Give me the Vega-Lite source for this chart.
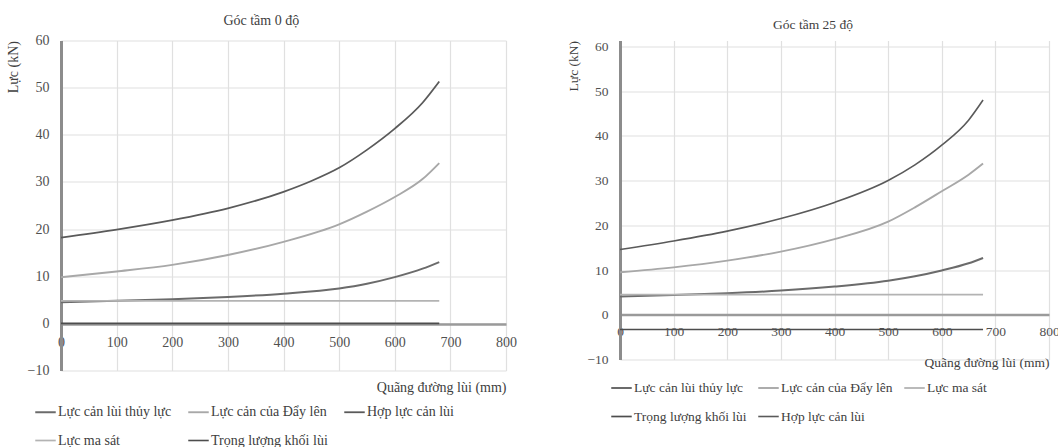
{
  "$schema": "https://vega.github.io/schema/vega-lite/v6.json",
  "background": "white",
  "padding": {"left": 6, "top": 13.5, "right": 0, "bottom": 0},
  "spacing": 49,
  "config": {
    "font": "Liberation Serif",
    "view": {"stroke": null},
    "axis": {
      "labelFont": "Liberation Serif",
      "titleFont": "Liberation Serif",
      "labelColor": "#505050",
      "titleColor": "#404040",
      "titleFontWeight": "normal",
      "gridColor": "#e0e0e0",
      "gridWidth": 1.2,
      "ticks": false,
      "labelFlush": false
    },
    "title": {"font": "Liberation Serif", "fontWeight": "normal", "color": "#404040", "anchor": "middle", "frame": "bounds"},
    "legend": {"labelFont": "Liberation Serif", "labelColor": "#404040", "gridAlign": "each"}
  },
  "data": {
    "values": [
      {"c": "0", "s": "Lực cản lùi thủy lực", "x": 0, "y": 4.5},
      {"c": "0", "s": "Lực cản lùi thủy lực", "x": 100, "y": 4.8},
      {"c": "0", "s": "Lực cản lùi thủy lực", "x": 200, "y": 5.1},
      {"c": "0", "s": "Lực cản lùi thủy lực", "x": 300, "y": 5.6},
      {"c": "0", "s": "Lực cản lùi thủy lực", "x": 400, "y": 6.3},
      {"c": "0", "s": "Lực cản lùi thủy lực", "x": 500, "y": 7.4},
      {"c": "0", "s": "Lực cản lùi thủy lực", "x": 550, "y": 8.4},
      {"c": "0", "s": "Lực cản lùi thủy lực", "x": 600, "y": 9.8},
      {"c": "0", "s": "Lực cản lùi thủy lực", "x": 650, "y": 11.6},
      {"c": "0", "s": "Lực cản lùi thủy lực", "x": 680, "y": 13.0},
      {"c": "0", "s": "Lực cản của Đẩy lên", "x": 0, "y": 9.8},
      {"c": "0", "s": "Lực cản của Đẩy lên", "x": 100, "y": 11.0},
      {"c": "0", "s": "Lực cản của Đẩy lên", "x": 200, "y": 12.4},
      {"c": "0", "s": "Lực cản của Đẩy lên", "x": 300, "y": 14.5},
      {"c": "0", "s": "Lực cản của Đẩy lên", "x": 400, "y": 17.3},
      {"c": "0", "s": "Lực cản của Đẩy lên", "x": 500, "y": 21.0},
      {"c": "0", "s": "Lực cản của Đẩy lên", "x": 550, "y": 23.7},
      {"c": "0", "s": "Lực cản của Đẩy lên", "x": 600, "y": 26.8},
      {"c": "0", "s": "Lực cản của Đẩy lên", "x": 650, "y": 30.6},
      {"c": "0", "s": "Lực cản của Đẩy lên", "x": 680, "y": 34.0},
      {"c": "0", "s": "Hợp lực cản lùi", "x": 0, "y": 18.2},
      {"c": "0", "s": "Hợp lực cản lùi", "x": 100, "y": 19.9},
      {"c": "0", "s": "Hợp lực cản lùi", "x": 200, "y": 21.9},
      {"c": "0", "s": "Hợp lực cản lùi", "x": 300, "y": 24.4},
      {"c": "0", "s": "Hợp lực cản lùi", "x": 400, "y": 27.9},
      {"c": "0", "s": "Hợp lực cản lùi", "x": 450, "y": 30.2},
      {"c": "0", "s": "Hợp lực cản lùi", "x": 500, "y": 33.0},
      {"c": "0", "s": "Hợp lực cản lùi", "x": 550, "y": 36.8},
      {"c": "0", "s": "Hợp lực cản lùi", "x": 600, "y": 41.3},
      {"c": "0", "s": "Hợp lực cản lùi", "x": 650, "y": 46.8},
      {"c": "0", "s": "Hợp lực cản lùi", "x": 680, "y": 51.3},
      {"c": "0", "s": "Lực ma sát", "x": 0, "y": 4.75},
      {"c": "0", "s": "Lực ma sát", "x": 680, "y": 4.75},
      {"c": "0", "s": "Trọng lượng khối lùi", "x": 0, "y": 0},
      {"c": "0", "s": "Trọng lượng khối lùi", "x": 680, "y": 0},
      {"c": "25", "s": "Lực cản lùi thủy lực", "x": 0, "y": 4.1},
      {"c": "25", "s": "Lực cản lùi thủy lực", "x": 100, "y": 4.4},
      {"c": "25", "s": "Lực cản lùi thủy lực", "x": 200, "y": 4.8},
      {"c": "25", "s": "Lực cản lùi thủy lực", "x": 300, "y": 5.4},
      {"c": "25", "s": "Lực cản lùi thủy lực", "x": 400, "y": 6.3},
      {"c": "25", "s": "Lực cản lùi thủy lực", "x": 500, "y": 7.6},
      {"c": "25", "s": "Lực cản lùi thủy lực", "x": 550, "y": 8.6},
      {"c": "25", "s": "Lực cản lùi thủy lực", "x": 600, "y": 9.9},
      {"c": "25", "s": "Lực cản lùi thủy lực", "x": 650, "y": 11.5},
      {"c": "25", "s": "Lực cản lùi thủy lực", "x": 677, "y": 12.7},
      {"c": "25", "s": "Lực cản của Đẩy lên", "x": 0, "y": 9.5},
      {"c": "25", "s": "Lực cản của Đẩy lên", "x": 100, "y": 10.6},
      {"c": "25", "s": "Lực cản của Đẩy lên", "x": 200, "y": 12.1},
      {"c": "25", "s": "Lực cản của Đẩy lên", "x": 300, "y": 14.1},
      {"c": "25", "s": "Lực cản của Đẩy lên", "x": 400, "y": 16.9},
      {"c": "25", "s": "Lực cản của Đẩy lên", "x": 500, "y": 20.8},
      {"c": "25", "s": "Lực cản của Đẩy lên", "x": 550, "y": 24.0},
      {"c": "25", "s": "Lực cản của Đẩy lên", "x": 600, "y": 27.6},
      {"c": "25", "s": "Lực cản của Đẩy lên", "x": 650, "y": 31.3},
      {"c": "25", "s": "Lực cản của Đẩy lên", "x": 677, "y": 33.8},
      {"c": "25", "s": "Hợp lực cản lùi", "x": 0, "y": 14.6},
      {"c": "25", "s": "Hợp lực cản lùi", "x": 100, "y": 16.5},
      {"c": "25", "s": "Hợp lực cản lùi", "x": 200, "y": 18.7},
      {"c": "25", "s": "Hợp lực cản lùi", "x": 300, "y": 21.5},
      {"c": "25", "s": "Hợp lực cản lùi", "x": 400, "y": 25.1},
      {"c": "25", "s": "Hợp lực cản lùi", "x": 500, "y": 30.0},
      {"c": "25", "s": "Hợp lực cản lùi", "x": 550, "y": 33.5},
      {"c": "25", "s": "Hợp lực cản lùi", "x": 600, "y": 37.9},
      {"c": "25", "s": "Hợp lực cản lùi", "x": 650, "y": 43.5},
      {"c": "25", "s": "Hợp lực cản lùi", "x": 677, "y": 48.0},
      {"c": "25", "s": "Lực ma sát", "x": 0, "y": 4.5},
      {"c": "25", "s": "Lực ma sát", "x": 677, "y": 4.5},
      {"c": "25", "s": "Trọng lượng khối lùi", "x": 0, "y": -3.3},
      {"c": "25", "s": "Trọng lượng khối lùi", "x": 677, "y": -3.3}
    ]
  },
  "resolve": {"scale": {"color": "independent", "strokeWidth": "independent"}},
  "hconcat": [
    {
      "width": 445,
      "height": 330,
      "title": {"text": "Góc tầm 0 độ", "fontSize": 14, "offset": 6},
      "transform": [{"filter": "datum.c == '0'"}],
      "mark": {"type": "line", "interpolate": "monotone"},
      "encoding": {
        "x": {
          "field": "x", "type": "quantitative",
          "scale": {"domain": [0, 800], "nice": false},
          "axis": {
            "values": [0, 100, 200, 300, 400, 500, 600, 700, 800],
            "title": "Quãng đường lùi (mm)", "titleFontSize": 14,
            "titleAnchor": "end", "titleY": 56,
            "offset": -46.5, "zindex": 0,
            "domainColor": "#9a9a9a", "domainWidth": 2.5,
            "labelFontSize": 14, "labelPadding": 11
          }
        },
        "y": {
          "field": "y", "type": "quantitative",
          "scale": {"domain": [-10, 60], "nice": false},
          "axis": {
            "values": [-10, 0, 10, 20, 30, 40, 50, 60],
            "title": "Lực (kN)", "titleFontSize": 14, "titleAnchor": "end", "titlePadding": 7,
            "domainColor": "#8c8c8c", "domainWidth": 3,
            "labelFontSize": 14, "labelPadding": 12
          }
        },
        "color": {
          "field": "s", "type": "nominal",
          "scale": {
            "domain": ["Lực cản lùi thủy lực", "Lực cản của Đẩy lên", "Hợp lực cản lùi", "Lực ma sát", "Trọng lượng khối lùi"],
            "range": ["#6b6b6b", "#a8a8a8", "#5a5a5a", "#b3b3b3", "#4d4d4d"]
          },
          "legend": {
            "title": null, "orient": "none", "legendX": -27, "legendY": 360,
            "direction": "horizontal", "columns": 3,
            "symbolType": "stroke", "symbolSize": 420, "symbolStrokeWidth": 2.2,
            "labelFontSize": 14, "labelOffset": 1, "columnPadding": 12, "rowPadding": 9.5
          }
        },
        "strokeWidth": {
          "field": "s", "type": "nominal",
          "scale": {
            "domain": ["Lực cản lùi thủy lực", "Lực cản của Đẩy lên", "Hợp lực cản lùi", "Lực ma sát", "Trọng lượng khối lùi"],
            "range": [2, 1.6, 2.5, 1.6, 2.2]
          },
          "legend": null
        }
      }
    },
    {
      "width": 429,
      "height": 319,
      "title": {"text": "Góc tầm 25 độ", "fontSize": 13.5, "offset": 8},
      "transform": [{"filter": "datum.c == '25'"}],
      "mark": {"type": "line", "interpolate": "monotone"},
      "encoding": {
        "x": {
          "field": "x", "type": "quantitative",
          "scale": {"domain": [0, 800], "nice": false},
          "axis": {
            "values": [0, 100, 200, 300, 400, 500, 600, 700, 800],
            "title": "Quãng đường lùi (mm)", "titleFontSize": 13.5,
            "titleAnchor": "end", "titleY": 41,
            "offset": -45, "zindex": 0,
            "domainColor": "#9a9a9a", "domainWidth": 2.5,
            "labelFontSize": 13.5, "labelPadding": 10
          }
        },
        "y": {
          "field": "y", "type": "quantitative",
          "scale": {"domain": [-10, 61.3], "nice": false},
          "axis": {
            "values": [-10, 0, 10, 20, 30, 40, 50, 60],
            "title": "Lực (kN)", "titleFontSize": 13.5, "titleAnchor": "end", "titlePadding": 6,
            "domainColor": "#8c8c8c", "domainWidth": 3,
            "labelFontSize": 13.5, "labelPadding": 12
          }
        },
        "color": {
          "field": "s", "type": "nominal",
          "scale": {
            "domain": ["Lực cản lùi thủy lực", "Lực cản của Đẩy lên", "Lực ma sát", "Trọng lượng khối lùi", "Hợp lực cản lùi"],
            "range": ["#6b6b6b", "#a8a8a8", "#b3b3b3", "#4d4d4d", "#5a5a5a"]
          },
          "legend": {
            "title": null, "orient": "none", "legendX": -10, "legendY": 336,
            "direction": "horizontal", "columns": 3,
            "symbolType": "stroke", "symbolSize": 420, "symbolStrokeWidth": 2.2,
            "labelFontSize": 13.5, "labelOffset": 1, "columnPadding": 7, "rowPadding": 10.5
          }
        },
        "strokeWidth": {
          "field": "s", "type": "nominal",
          "scale": {
            "domain": ["Lực cản lùi thủy lực", "Lực cản của Đẩy lên", "Lực ma sát", "Trọng lượng khối lùi", "Hợp lực cản lùi"],
            "range": [2, 1.6, 1.6, 2.2, 2.5]
          },
          "legend": null
        }
      }
    }
  ]
}
